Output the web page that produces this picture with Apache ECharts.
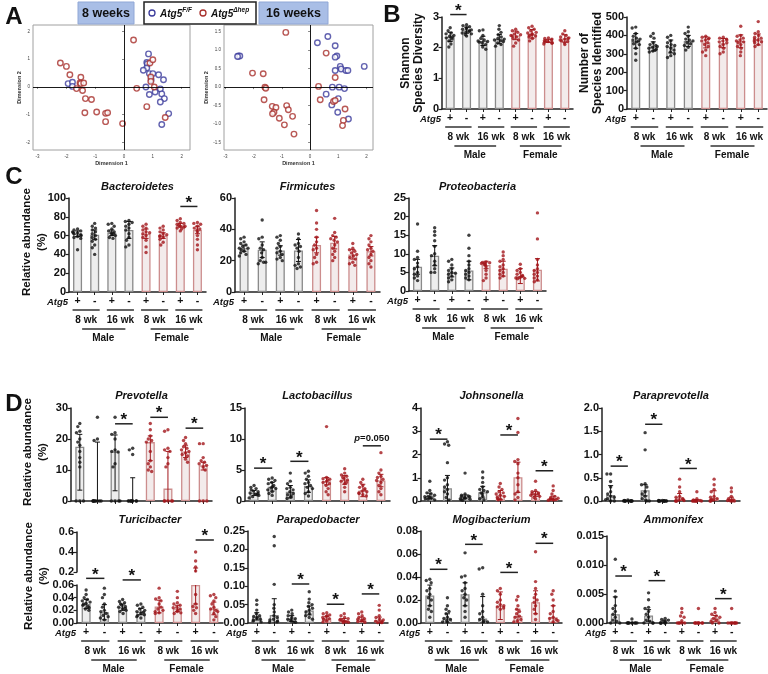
<!DOCTYPE html>
<html><head><meta charset="utf-8">
<script src="https://cdn.jsdelivr.net/npm/echarts@6/dist/echarts.min.js"></script>
<style>html,body{margin:0;padding:0;background:#fff}#c{width:768px;height:674px}</style>
</head><body><div id="c"></div>
<script>
// ---------------- DATA ----------------
const categories = ['Male 8wk +','Male 8wk -','Male 16wk +','Male 16wk -','Female 8wk +','Female 8wk -','Female 16wk +','Female 16wk -'];
const atg5Labels = ['+','-','+','-','+','-','+','-'];
const ageLabels = ['8 wk','16 wk','8 wk','16 wk'];
const sexLabels = ['Male','Female'];

// Panel A: MDS coordinates [Dimension 1, Dimension 2]
const dim8FF = [[-1.94,0.12],[-1.79,0.17],[-1.79,0.02],[0.85,1.19],[0.79,0.88],[0.81,0.83],[0.79,0.68],[0.67,0.6],[0.88,0.48],[1.0,0.48],[1.2,0.44],[1.37,0.26],[0.94,0.26],[0.76,0],[1.26,-0.07],[1.08,-0.18],[0.88,-0.27],[1.31,-0.25],[1.4,-0.42],[1.26,-0.54],[1.55,-0.96],[1.31,-1.35]];
const dim8Hep = [[-2.21,0.86],[-2.0,0.74],[-1.88,0.44],[-1.5,0.35],[-1.53,0.14],[-1.5,0.12],[-1.4,0.14],[-1.65,-0.06],[-1.44,-0.13],[-1.34,-0.42],[-1.13,-0.45],[-1.36,-0.93],[-0.95,-0.9],[-0.64,-0.95],[-0.57,-0.93],[-0.64,-1.25],[-0.05,-1.32],[0.33,1.69],[0.44,-0.05],[0.79,-0.71],[0.9,0.86],[1.0,0.98],[0.93,0.36],[0.93,0.2],[1.05,0],[1.43,-1.1]];
const dim16FF = [[-2.54,0.84],[-2.49,0.84],[-2.57,0.83],[0.63,1.37],[0.26,1.2],[0.89,1.12],[0.95,0.84],[0.89,0.81],[1.07,0.56],[1.1,0.49],[0.89,0.45],[1.27,0.45],[1.34,0.45],[1.92,0.56],[0.79,0],[1.03,0],[1.22,-0.04],[0.57,-0.19],[1.0,-0.31],[0.77,-0.48],[0.98,-0.68],[1.36,-0.86]];
const dim16Hep = [[-0.86,1.48],[-2.04,0.38],[-1.66,0.36],[-1.6,0],[-1.57,-0.03],[-1.63,-0.34],[-1.34,-0.52],[-1.21,-0.55],[-1.28,-0.68],[-1.33,-0.72],[-1.09,-0.84],[-0.83,-0.5],[-0.77,-0.61],[-0.62,-0.79],[-0.91,-1.02],[-0.57,-1.27],[0.57,0.92],[0.3,0.02],[0.36,-0.34],[0.89,0.26],[0.83,-0.39],[0.89,-0.36],[1.24,-0.59],[1.18,-0.9],[1.15,-1.04]];

// Panel B
const shannonMean = [2.35,2.57,2.22,2.28,2.4,2.45,2.22,2.3];
const shannonSD = [0.15,0.1,0.15,0.15,0.14,0.14,0.05,0.12];
const shannonPts = [
[2.65,2.55,2.48,2.45,2.4,2.37,2.35,2.32,2.28,2.22,2.12,2.02],
[2.75,2.72,2.68,2.65,2.62,2.6,2.58,2.55,2.53,2.5,2.48,2.45,2.42,2.38],
[2.58,2.55,2.4,2.3,2.25,2.22,2.2,2.18,2.15,2.1,2.02,1.95],
[2.72,2.6,2.5,2.42,2.35,2.3,2.28,2.25,2.22,2.2,2.15,2.1,2.05],
[2.6,2.55,2.5,2.45,2.42,2.4,2.38,2.35,2.3,2.25,2.15,2.05],
[2.7,2.65,2.6,2.55,2.5,2.48,2.45,2.42,2.4,2.38,2.35,2.3,2.22],
[2.32,2.3,2.28,2.25,2.23,2.22,2.2,2.18,2.16,2.14,2.12],
[2.55,2.45,2.4,2.35,2.32,2.3,2.28,2.25,2.22,2.2,2.15,2.1]];
const speciesMean = [370,340,340,370,362,358,368,378];
const speciesSD = [40,25,35,30,30,25,35,30];
const speciesPts = [
[445,440,410,395,385,380,375,370,365,355,350,330,300,265],
[410,395,385,360,350,345,340,335,330,325,320,315,310],
[400,390,370,360,350,345,340,330,320,310,300,290,280],
[445,420,410,395,380,375,370,360,355,345,335,320],
[395,390,385,380,375,370,360,350,340,320,310,290],
[390,385,380,375,370,365,360,350,340,330,310,300],
[450,400,395,385,375,370,365,360,350,340,330,310,290],
[475,420,410,400,390,385,380,375,370,365,360,350,340]];

// Panel C
const bactMean = [62,61,63,66,62,60,71,66];
const bactSD = [3,5,3,9,5,3,2,4];
const bactPts = [
[67,66,65,64,63,63,62,61,60,59,58,57,45],
[73,70,68,66,64,62,60,58,56,54,50,47,40],
[73,72,70,67,65,64,63,62,61,60,58,57],
[76,75,74,72,70,68,66,62,58,55,50,48],
[72,70,68,66,64,63,62,60,58,55,48,42],
[70,68,66,64,62,61,60,59,58,56,53,50],
[78,76,74,73,72,71,70,70,69,68,67,65],
[74,73,72,70,68,67,66,64,60,56,50,45]];
const firmMean = [28,27,26.5,26.5,30,31.5,24,26];
const firmSD = [2,5,3,7,5,4,3,3];
const firmPts = [
[35,34,32,31,30,29,28,28,27,26,25,24,23],
[46,35,34,30,28,27,25,22,20,19,19,18],
[36,35,33,31,29,28,26,25,24,22,21,20],
[37,34,31,30,29,28,26,22,18,17,16,15],
[52,44,40,35,32,30,28,27,24,22,19,18],
[47,38,36,35,34,33,32,30,28,26,24,22,20],
[31,28,27,26,25,24,23,22,21,19,18,17],
[36,34,32,30,28,27,26,24,22,20,18,16]];
const protMean = [6.5,9.5,5,5.5,7,6,4,5.7];
const protSD = [2,2.7,1.2,2.5,1,2,2,3];
const protPts = [
[18,10.7,9,8.5,7.5,6.5,6,5,4.5,4,3.5,2.8],
[17,16,15,13.5,12,10,9.5,8,7,6,5,5],
[8.5,8,7,6,5.5,5,4.8,4.5,4,3.5,3,2.5],
[15,11.5,9.5,8,7,6,5.5,5,4.5,4,3.5,3],
[7.8,7.7,7.6,7.5,7.4,7.2,7,6.5,5.5,4.5,3.5,2.8],
[10.5,9.5,8.5,8,7,6.5,6,5.5,5,4.5,4,3.5],
[7.2,6,5.5,5,4.5,4.2,4,3.8,3.6,3.5,3.4,3.3],
[21,14,8.5,7,6,5.5,5,4.5,4,3.5,3,2.5]];

// Panel D
const prevMean = [17.5,0,16,0,19,4,16,11.5];
const prevLo = [3.5,0,3.3,0,13,0,14,10];
const prevHi = [21.5,19,21.3,7.5,21,16,18,12.5];
const prevPts = [
[25,24,22.5,22,20,19,18,16,14,12.5,11,0,0,0],
[27,20,19.5,0,0,0,0,0,0,0,0,0],
[27,22,21.5,20,16.5,16,15.8,12,11,0,0,0,0],
[17,16.5,15,0,0,0,0,0,0,0,0,0],
[25,23,21,20,19.5,19,16,13,12,11,10,9.5],
[23,22.5,17,16.5,16,14,12,11,0,0,0,0,0],
[20.5,19.5,18.5,17.5,17,16.5,16,15.5,15,14.5,13.5,12.5],
[18.5,18.5,14,13,12.5,12,11.5,11,10,0,0,0]];
const lactMean = [1.3,2.3,1.5,2.4,3.2,3.4,1.7,3.3];
const lactSD = [0.4,0.7,1,1,0.6,0.7,1,1];
const lactPts = [
[2.5,2.2,2,1.8,1.6,1.5,1.3,1.2,1.1,1,0.9,0.7,0.5],
[3.7,3.5,3.3,3,2.8,2.5,2.3,2.1,2,1.8,1.5,1.2,0.9],
[4.5,3.2,2.8,2.2,2,1.8,1.5,1.2,1,0.8,0.6,0.4],
[4.8,4.5,4,3.5,3,2.8,2.5,2.2,2,1.5,1.2,0.8],
[12,3.8,3.6,3.5,3.4,3.2,3,2.8,2.5,2,1.5,1],
[5.2,4.5,4.2,4,3.8,3.6,3.4,3.2,3,2.8,2.2,1.5],
[3.5,3,2.5,2.2,2,1.8,1.6,1.5,1.3,1.2,1,0.8],
[7.8,5,4.5,4,3.8,3.5,3.3,3,2.5,2,1.5,1]];
const johnMean = [0.22,0.55,0.18,0.38,0.25,1.02,0.3,0.13];
const johnSD = [0.12,0.55,0.08,0.25,0.2,0.65,0.1,0.08];
const johnPts = [
[0.85,0.45,0.35,0.3,0.25,0.2,0.18,0.15,0.12,0.1,0.08,0.05],
[2.55,2.45,2.4,1.65,1,0.9,0.7,0.6,0.5,0.4,0.3,0.15,0.05],
[1.2,0.3,0.25,0.22,0.2,0.18,0.15,0.12,0.1,0.08,0.05,0.03],
[1.25,1,0.8,0.6,0.5,0.45,0.4,0.35,0.3,0.2,0.1,0.05],
[0.75,0.6,0.5,0.4,0.35,0.3,0.25,0.2,0.15,0.1,0.08,0.05],
[3.55,2.95,1.78,1.7,1.6,1.2,1,0.7,0.4,0.3,0.15,0.05],
[0.85,0.45,0.4,0.35,0.32,0.3,0.28,0.25,0.2,0.15,0.1],
[0.65,0.45,0.3,0.2,0.15,0.12,0.1,0.08,0.06,0.05,0.04,0.03]];
const parapMean = [0.13,0,0.23,0,0.08,0.01,0.07,0.03];
const parapSD = [0.2,0,0.12,0,0.08,0.02,0.15,0.05];
const parapPts = [
[0.58,0.58,0.42,0.3,0.2,0.15,0.1,0.08,0.05,0.03,0,0],
[0.02,0.01,0,0,0,0,0,0,0,0,0,0],
[1.47,1.1,0.37,0.35,0.3,0.2,0.15,0.1,0.05,0.02,0,0],
[0.01,0.01,0,0,0,0,0,0,0,0,0,0],
[0.47,0.3,0.2,0.1,0.08,0.05,0.03,0.02,0.01,0,0,0],
[0.2,0.05,0.02,0.01,0,0,0,0,0,0,0],
[0.47,0.35,0.25,0.2,0.1,0.08,0.05,0.03,0.02,0.01,0,0],
[0.28,0.2,0.1,0.05,0.03,0.02,0.01,0,0,0]];
const turicMean = [0.03,0.017,0.025,0.018,0.026,0.023,0.06,0.023];
const turicLo = [0.023,0.005,0.02,0.013,0.016,0.018,0.03,0.013];
const turicHi = [0.037,0.029,0.03,0.023,0.036,0.028,0.24,0.033];
const turicPts = [
[0.052,0.045,0.04,0.037,0.035,0.033,0.031,0.03,0.028,0.026,0.024,0.022,0.02],
[0.055,0.045,0.04,0.03,0.025,0.02,0.018,0.015,0.012,0.01,0.008,0.005],
[0.037,0.034,0.032,0.03,0.028,0.026,0.025,0.023,0.022,0.02,0.018,0.015],
[0.03,0.028,0.025,0.022,0.02,0.018,0.017,0.015,0.013,0.012,0.01,0.008],
[0.055,0.04,0.038,0.035,0.03,0.025,0.022,0.02,0.018,0.016,0.015],
[0.05,0.04,0.032,0.03,0.028,0.025,0.024,0.022,0.02,0.018,0.016,0.015],
[0.4,0.31,0.25,0.21,0.045,0.03,0.026,0.024,0.02,0.015],
[0.045,0.043,0.04,0.035,0.03,0.025,0.022,0.02,0.018,0.015,0.01,0.005]];
const parapedoMean = [0.018,0.022,0.012,0.034,0.013,0.008,0.01,0.008];
const parapedoSD = [0.01,0.044,0.008,0.012,0.005,0.004,0.006,0.008];
const parapedoPts = [
[0.062,0.05,0.035,0.025,0.02,0.018,0.015,0.012,0.01,0.008,0.005,0.003],
[0.235,0.21,0.105,0.05,0.04,0.03,0.02,0.015,0.01,0.008,0.005,0.003,0.002],
[0.035,0.03,0.025,0.02,0.015,0.012,0.01,0.008,0.005,0.003,0.002],
[0.085,0.065,0.055,0.05,0.045,0.04,0.035,0.03,0.025,0.02,0.015,0.01],
[0.028,0.025,0.022,0.02,0.018,0.015,0.012,0.01,0.005,0.003],
[0.025,0.02,0.015,0.012,0.01,0.008,0.006,0.005,0.003,0.002,0.001],
[0.03,0.025,0.02,0.015,0.012,0.01,0.008,0.006,0.004,0.002],
[0.048,0.035,0.02,0.015,0.01,0.008,0.005,0.003,0.002,0.001,0.001]];
const mogiMean = [0.024,0.004,0.025,0.004,0.015,0.006,0.018,0.005];
const mogiSD = [0.009,0.004,0.01,0.019,0.012,0.006,0.01,0.01];
const mogiPts = [
[0.038,0.037,0.035,0.03,0.028,0.025,0.022,0.02,0.015,0.012,0.01,0.005],
[0.022,0.015,0.012,0.01,0.008,0.005,0.004,0.003,0.002,0.001,0.001],
[0.061,0.041,0.04,0.035,0.03,0.028,0.025,0.022,0.02,0.015,0.01,0.005],
[0.048,0.047,0.025,0.015,0.01,0.008,0.005,0.003,0.002,0.001,0.001],
[0.03,0.028,0.025,0.02,0.018,0.016,0.015,0.014,0.013,0.012],
[0.023,0.02,0.015,0.012,0.01,0.008,0.006,0.005,0.003,0.002,0.001],
[0.062,0.036,0.03,0.025,0.022,0.02,0.018,0.015,0.012,0.008,0.003],
[0.028,0.025,0.02,0.015,0.01,0.008,0.005,0.004,0.003,0.002,0.001]];
const ammonMean = [0.0015,0,0.0013,0.0002,0.0001,0,0.0008,0];
const ammonSD = [0.003,0,0.001,0.0003,0,0,0.0005,0];
const ammonPts = [
[0.011,0.0055,0.0045,0.003,0.0025,0.002,0.0015,0.001,0.0005,0.0003,0,0],
[0.0007,0,0,0,0,0,0,0,0,0],
[0.0052,0.004,0.0027,0.0025,0.002,0.0015,0.001,0.0005,0.0003,0,0,0],
[0.0008,0.0006,0.0005,0.0003,0.0002,0,0,0,0,0],
[0.0025,0.0018,0.0012,0.001,0.0004,0,0,0,0,0],
[0.0025,0,0,0,0,0,0,0,0],
[0.0025,0.0018,0.0015,0.0012,0.001,0.0008,0.0005,0.0003,0,0],
[0.0025,0,0,0,0,0,0,0,0]];

// ---------------- CHART ----------------
const FONT = '"Liberation Sans", Arial, Helvetica, sans-serif';
const BLACK = '#111111', RED = '#a3171c';
const BLUE_O = '#3c3c9c', RED_O = '#a8302c';
const MALE_FILL = '#ededed', MALE_BORDER = '#8a8a8a';
const FEM_FILL = '#f3ebeb', FEM_BORDER = '#cc8d8d';
const chart = echarts.init(document.getElementById('c'));
const grids = [], xAxes = [], yAxes = [], series = [];

function addPCA(box, xr, yr, xt, yt, ydec, ff, hep) {
  const gi = grids.length;
  grids.push({left: box[0], top: box[1], width: box[2], height: box[3], show: true, borderColor: '#a0a0a0', borderWidth: 1});
  xAxes.push({gridIndex: gi, type: 'value', min: xr[0], max: xr[1], name: 'Dimension 1', nameLocation: 'middle', nameGap: 10,
    nameTextStyle: {fontSize: 5.5, fontWeight: 'bold', color: '#333', fontFamily: FONT},
    axisLine: {show: false}, splitLine: {show: false},
    axisTick: {show: true, customValues: xt, length: 2, lineStyle: {color: '#888'}},
    axisLabel: {customValues: xt, fontSize: 4.5, color: '#444', margin: 4, fontFamily: FONT}});
  yAxes.push({gridIndex: gi, type: 'value', min: yr[0], max: yr[1], name: 'Dimension 2', nameLocation: 'middle', nameGap: 11, nameRotate: 90,
    nameTextStyle: {fontSize: 5.5, fontWeight: 'bold', color: '#333', fontFamily: FONT},
    axisLine: {show: false}, splitLine: {show: false},
    axisTick: {show: true, customValues: yt, length: 2, lineStyle: {color: '#888'}},
    axisLabel: {customValues: yt, fontSize: 4.5, color: '#444', margin: 3, fontFamily: FONT, formatter: v => v.toFixed(ydec)}});
  const base = {type: 'scatter', xAxisIndex: gi, yAxisIndex: gi, symbol: 'circle', symbolSize: 5.5, silent: true, z: 3};
  series.push(Object.assign({}, base, {data: ff, itemStyle: {color: '#fff', borderColor: BLUE_O, borderWidth: 1.4},
    markLine: {silent: true, symbol: 'none', label: {show: false}, lineStyle: {color: '#000', width: 0.9, type: 'solid'},
      data: [{xAxis: 0}, {yAxis: 0}]}}));
  series.push(Object.assign({}, base, {data: hep, itemStyle: {color: '#fff', borderColor: RED_O, borderWidth: 1.4}}));
}

addPCA([33, 25, 157, 125], [-3.16, 2.29], [-2.27, 2.23], [-3,-2,-1,0,1,2], [-2,-1,0,1,2], 0, dim8FF, dim8Hep);
addPCA([224, 25, 149, 125], [-3.05, 2.23], [-1.70, 1.68], [-3,-2,-1,0,1,2], [-1.5,-1,-0.5,0,0.5,1,1.5], 1, dim16FF, dim16Hep);

function renderErr(params, api) {
  const i = api.value(0), lo = api.value(1), hi = api.value(2);
  const a = api.coord([i, lo]), b = api.coord([i, hi]);
  const col = i < 4 ? BLACK : RED;
  const w = 2.5;
  const st = {stroke: col, lineWidth: 1};
  return {type: 'group', children: [
    {type: 'line', shape: {x1: a[0], y1: a[1], x2: b[0], y2: b[1]}, style: st},
    {type: 'line', shape: {x1: b[0] - w, y1: b[1], x2: b[0] + w, y2: b[1]}, style: st},
    {type: 'line', shape: {x1: a[0] - w, y1: a[1], x2: a[0] + w, y2: a[1]}, style: st}]};
}

const panels = [
 {title: null, left: 442, top: 17, width: 131, height: 92, min: 0, max: 3, interval: 1, dec: 0, mean: shannonMean, err: shannonSD, pts: shannonPts, xlab: true, sig: [[0,1,3.08]]},
 {title: null, left: 627, top: 17, width: 140, height: 92, min: 0, max: 500, interval: 100, dec: 0, mean: speciesMean, err: speciesSD, pts: speciesPts, xlab: true, sig: []},
 {title: 'Bacteroidetes', ty: 187, left: 69, top: 198, width: 137, height: 94, min: 0, max: 100, interval: 20, dec: 0, mean: bactMean, err: bactSD, pts: bactPts, xlab: true, sig: [[6,7,91]]},
 {title: 'Firmicutes', ty: 187, left: 235, top: 198, width: 145, height: 94, min: 0, max: 60, interval: 20, dec: 0, mean: firmMean, err: firmSD, pts: firmPts, xlab: true, sig: []},
 {title: 'Proteobacteria', ty: 187, left: 409, top: 198, width: 137, height: 93, min: 0, max: 25, interval: 5, dec: 0, mean: protMean, err: protSD, pts: protPts, xlab: true, sig: []},
 {title: 'Prevotella', ty: 396, left: 71, top: 408, width: 141, height: 93, min: 0, max: 30, interval: 10, dec: 0, mean: prevMean, lo: prevLo, hi: prevHi, pts: prevPts, xlab: false, sig: [[2,3,24.9],[4,5,27],[6,7,23.5]]},
 {title: 'Lactobacillus', ty: 396, left: 245, top: 408, width: 145, height: 93, min: 0, max: 15, interval: 5, dec: 0, mean: lactMean, err: lactSD, pts: lactPts, xlab: false, sig: [[0,1,5.3],[2,3,6.4],[6,7,8.9,'p']]},
 {title: 'Johnsonella', ty: 396, left: 421, top: 408, width: 141, height: 93, min: 0, max: 4, interval: 1, dec: 0, mean: johnMean, err: johnSD, pts: johnPts, xlab: false, sig: [[0,1,2.66],[4,5,2.84],[6,7,1.3]]},
 {title: 'Paraprevotella', ty: 396, left: 602, top: 408, width: 138, height: 93, min: 0, max: 2, interval: 0.5, dec: 1, mean: parapMean, err: parapSD, pts: parapPts, xlab: false, sig: [[0,1,0.75],[2,3,1.65],[4,5,0.7]]},
 {title: 'Turicibacter', ty: 520, left: 77, top: 585, width: 146, height: 38, min: 0, max: 0.06, interval: 0.02, dec: 2, mean: turicMean, lo: turicLo, hi: turicHi, pts: turicPts, filter: v => v <= 0.06, xlab: true, sig: [[0,1,0.0705],[2,3,0.068]]},
 {title: null, left: 77, top: 532, width: 146, height: 40, min: 0.2, max: 0.6, interval: 0.2, dec: 1, mean: turicMean, lo: turicLo, hi: turicHi, pts: turicPts, filter: v => v > 0.06, noBar: true, noX: true, xlab: false, sig: [[6,7,0.52]]},
 {title: 'Parapedobacter', ty: 520, left: 248, top: 531, width: 140, height: 92, min: 0, max: 0.25, interval: 0.05, dec: 2, mean: parapedoMean, err: parapedoSD, pts: parapedoPts, xlab: true, sig: [[2,3,0.106],[4,5,0.051],[6,7,0.079]]},
 {title: 'Mogibacterium', ty: 520, left: 421, top: 531, width: 141, height: 92, min: 0, max: 0.08, interval: 0.02, dec: 2, mean: mogiMean, err: mogiSD, pts: mogiPts, xlab: true, sig: [[0,1,0.0467],[2,3,0.0684],[4,5,0.044],[6,7,0.0693]]},
 {title: 'Ammonifex', ty: 520, left: 607, top: 536, width: 133, height: 87, min: 0, max: 0.015, interval: 0.005, dec: 3, mean: ammonMean, err: ammonSD, pts: ammonPts, xlab: true, sig: [[0,1,0.0081],[2,3,0.0073],[6,7,0.0042]]}
];

panels.forEach(p => {
  const gi = grids.length; p.gi = gi;
  grids.push({left: p.left, top: p.top, width: p.width, height: p.height});
  xAxes.push({gridIndex: gi, type: 'category', data: categories, jitter: 10, jitterOverlap: false, jitterMargin: 0.3,
    axisLine: {show: !p.noX, lineStyle: {color: '#222', width: 1.5}},
    axisTick: {show: !p.noX, alignWithLabel: true, length: 3, lineStyle: {color: '#222', width: 1}},
    axisLabel: {show: p.xlab, interval: 0, formatter: (v, i) => atg5Labels[i], fontSize: 10.5, fontWeight: 'bold', color: '#111', margin: 4, fontFamily: FONT},
    splitLine: {show: false}});
  yAxes.push({gridIndex: gi, type: 'value', min: p.min, max: p.max, interval: p.interval,
    axisLine: {show: true, lineStyle: {color: '#222', width: 1.5}},
    axisTick: {show: true, length: 3.5, lineStyle: {color: '#222', width: 1.2}},
    axisLabel: {formatter: v => v.toFixed(p.dec), fontSize: 11, fontWeight: 'bold', color: '#111', margin: 3, fontFamily: FONT},
    splitLine: {show: false}});
  if (!p.noBar) {
    series.push({type: 'bar', xAxisIndex: gi, yAxisIndex: gi, barWidth: 9, silent: true, z: 2,
      data: p.mean.map((m, i) => ({value: m, itemStyle: {color: i < 4 ? MALE_FILL : FEM_FILL, borderColor: i < 4 ? MALE_BORDER : FEM_BORDER, borderWidth: 1.3}}))});
  }
  const filt = p.filter || (() => true);
  const male = [], fem = [];
  p.pts.forEach((arr, i) => arr.forEach(v => { if (filt(v)) (i < 4 ? male : fem).push([i, v]); }));
  const sbase = {type: 'scatter', xAxisIndex: gi, yAxisIndex: gi, symbol: 'circle', symbolSize: 3.4, silent: true, z: 3};
  series.push(Object.assign({}, sbase, {data: male, itemStyle: {color: BLACK}}));
  series.push(Object.assign({}, sbase, {data: fem, itemStyle: {color: RED}}));
  const errData = p.mean.map((m, i) => {
    const lo = p.lo ? p.lo[i] : Math.max(0, m - p.err[i]);
    const hi = p.hi ? p.hi[i] : m + p.err[i];
    return [i, lo, hi];
  });
  series.push({type: 'custom', xAxisIndex: gi, yAxisIndex: gi, renderItem: renderErr, data: errData, clip: true, silent: true, z: 4,
    encode: {x: 0, y: [1, 2]}});
});

chart.setOption({animation: false, backgroundColor: '#fff', textStyle: {fontFamily: FONT},
  grid: grids, xAxis: xAxes, yAxis: yAxes, series: series});

// ---------------- ANNOTATIONS ----------------
const mctx = document.createElement('canvas').getContext('2d');
function tw(text, font) { mctx.font = font; return mctx.measureText(text).width; }
function T(x, y, text, o) {
  o = o || {};
  const st = {text: text, fill: o.color || '#111', fontSize: o.size || 10, fontWeight: o.weight || 'bold', fontStyle: o.style || 'normal',
    fontFamily: FONT, textAlign: o.align || 'center', align: o.align || 'center', textVerticalAlign: o.valign || 'middle', verticalAlign: o.valign || 'middle'};
  if (o.lh) st.lineHeight = o.lh;
  if (o.rich) st.rich = o.rich;
  const e = {type: 'text', x: x, y: y, style: st, silent: true, z: 100};
  if (o.rot) e.rotation = o.rot;
  return e;
}
function L(x1, y1, x2, y2, w, c) {
  return {type: 'line', shape: {x1: x1, y1: y1, x2: x2, y2: y2}, style: {stroke: c || '#222', lineWidth: w || 1.5}, silent: true, z: 100};
}
const G = [];
function px(gi, i, v) { return chart.convertToPixel({xAxisIndex: gi, yAxisIndex: gi}, [i, v]); }

// panel letters
G.push(T(14, 17, 'A', {size: 24}));
G.push(T(392, 15, 'B', {size: 24}));
G.push(T(14, 177, 'C', {size: 24}));
G.push(T(14, 404, 'D', {size: 24}));

// Panel A header boxes & legend
G.push({type: 'rect', shape: {x: 78, y: 2, width: 56, height: 22}, style: {fill: '#a9bee6', stroke: '#90a7d6', lineWidth: 1}, silent: true});
G.push(T(106, 13.5, '8 weeks', {size: 12.5}));
G.push({type: 'rect', shape: {x: 259, y: 2, width: 69, height: 22}, style: {fill: '#a9bee6', stroke: '#90a7d6', lineWidth: 1}, silent: true});
G.push(T(293.5, 13.5, '16 weeks', {size: 12.5}));
G.push({type: 'rect', shape: {x: 144, y: 2, width: 112, height: 22}, style: {fill: '#fff', stroke: '#222', lineWidth: 1.5}, silent: true});
G.push({type: 'circle', shape: {cx: 152, cy: 13, r: 3}, style: {fill: '#fff', stroke: BLUE_O, lineWidth: 1.3}, silent: true});
G.push({type: 'circle', shape: {cx: 203, cy: 13, r: 3}, style: {fill: '#fff', stroke: RED_O, lineWidth: 1.3}, silent: true});
const lf = 'italic bold 10px ' + FONT;
G.push(T(160, 14, 'Atg5', {size: 10, style: 'italic', align: 'left'}));
G.push(T(160 + tw('Atg5', lf), 10, 'F/F', {size: 6.5, style: 'italic', align: 'left'}));
G.push(T(211, 14, 'Atg5', {size: 10, style: 'italic', align: 'left'}));
G.push(T(211 + tw('Atg5', lf), 10, 'Δhep', {size: 6.5, style: 'italic', align: 'left'}));

// y-axis titles
const rot = Math.PI / 2;
G.push(T(412, 63, 'Shannon\nSpecies Diversity', {size: 12, rot: rot, lh: 13.5}));
G.push(T(591, 63, 'Number of\nSpecies Identified', {size: 12, rot: rot, lh: 13.5}));
G.push(T(34, 242, 'Relative abundance\n(%)', {size: 11.5, rot: rot, lh: 15}));
G.push(T(35, 452, 'Relative abundance\n(%)', {size: 11.5, rot: rot, lh: 15}));
G.push(T(36, 576, 'Relative abundance\n(%)', {size: 11.5, rot: rot, lh: 15}));

panels.forEach(p => {
  const gi = p.gi;
  if (p.title) G.push(T(p.left + p.width / 2, p.ty, p.title, {size: 11, style: 'italic'}));
  // significance bars
  p.sig.forEach(s => {
    const a = px(gi, s[0], s[2]), b = px(gi, s[1], s[2]);
    G.push(L(a[0], a[1], b[0], b[1], 1.5, '#222'));
    if (s[3] === 'p') {
      G.push(T((a[0] + b[0]) / 2, a[1] - 7, '{i|p}=0.050', {size: 9.5,
        rich: {i: {fontStyle: 'italic', fontWeight: 'bold', fontSize: 9.5, fontFamily: FONT, fill: '#111'}}}));
    } else {
      G.push(T((a[0] + b[0]) / 2, a[1] - 3.5, '*', {size: 17}));
    }
  });
  if (p.xlab) {
    const axisY = p.top + p.height;
    G.push(T(p.left - 1, axisY + 10, 'Atg5', {size: 9.5, style: 'italic', align: 'right'}));
    const mids = [];
    for (let k = 0; k < 4; k++) {
      const c1 = px(gi, 2 * k, 0)[0], c2 = px(gi, 2 * k + 1, 0)[0];
      G.push(L(c1 - 5, axisY + 18, c2 + 5, axisY + 18, 1.5, '#333'));
      G.push(T((c1 + c2) / 2, axisY + 28, ageLabels[k], {size: 10}));
      mids.push((c1 + c2) / 2);
    }
    for (let s = 0; s < 2; s++) {
      const m1 = mids[2 * s], m2 = mids[2 * s + 1];
      G.push(L(m1 - 4, axisY + 37, m2 + 5, axisY + 37, 1.5, '#333'));
      G.push(T((m1 + m2) / 2, axisY + 46, sexLabels[s], {size: 10}));
    }
  }
});

chart.setOption({graphic: G});
</script></body></html>
